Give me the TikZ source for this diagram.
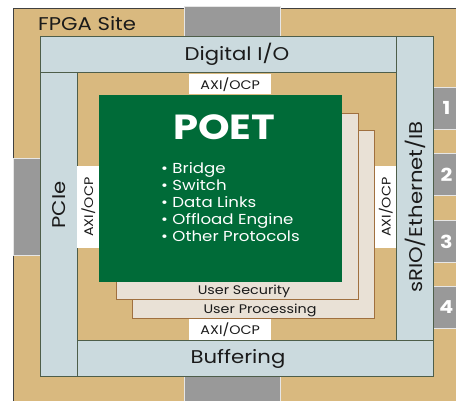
\documentclass[tikz,border=0pt]{standalone}
\usepackage{fontspec}
\setmainfont[FakeStretch=1.15]{Poppins}
\usetikzlibrary{positioning}

\definecolor{sitetan}{HTML}{D9B97F}
\definecolor{barblue}{HTML}{CBDADE}
\definecolor{portgray}{HTML}{999999}
\definecolor{poetgreen}{HTML}{006B38}
\definecolor{layerfill}{HTML}{E9E1D6}
\definecolor{layeredge}{HTML}{A0703F}
\definecolor{edgegreen}{HTML}{4E5E4A}
\definecolor{inkgray}{HTML}{1A1A1A}

\begin{document}
\begin{tikzpicture}[x=1bp,y=-1bp,
        box/.style={rectangle, inner sep=0pt, anchor=north west},
        bar/.style={box, fill=barblue, draw=edgegreen, line width=0.8bp},
        port/.style={box, fill=portgray, draw=white!75!portgray, line width=0.8bp},
        axi/.style={box, fill=white},
        layer/.style={box, fill=layerfill, draw=layeredge, line width=0.8bp},
        lbl/.style={inner sep=0pt, text=inkgray, font=\fontsize{18.5}{20}\selectfont},
        axilbl/.style={inner sep=0pt, text=inkgray, font=\fontsize{12.5}{14}\selectfont},
        userlbl/.style={inner sep=0pt, text=inkgray, font=\fontsize{12.5}{14}\selectfont}
        ]

        \useasboundingbox (0,0) rectangle (456,400);
        \clip (0,0) rectangle (456,400);

        % site and its ports
        \node [box, fill=sitetan, draw=black!75, line width=1bp,
               minimum width=460bp, minimum height=410bp] (site) at (13,8) {};
        \node [lbl, anchor=west] (sitelbl) at (38,24) {FPGA Site};

        \node [port, minimum width=96bp, minimum height=30bp] (ptop) at (184,6) {};
        \node [port, minimum width=96bp, minimum height=30bp] (pbot) at (184,376) {};
        \node [port, minimum width=27bp, minimum height=97bp] (pleft) at (13,158) {};
        \foreach \n/\y in {1/87, 2/153, 3/220, 4/286}
            \node [port, minimum width=30bp, minimum height=42bp,
                   text=white, font=\bfseries\fontsize{18}{20}\selectfont]
                   (p\n) at (433,\y) {\hspace*{-4bp}\n};

        % interface bars
        \node [bar, minimum width=356bp, minimum height=36bp] (dio) at (40,36) {};
        \node [bar, minimum width=37bp, minimum height=304bp] (srio) at (396,36) {};
        \node [bar, minimum width=37bp, minimum height=304bp] (pcie) at (40,72) {};
        \node [bar, minimum width=356bp, minimum height=36bp] (buf) at (77,340) {};

        \node [lbl] (diolbl) at (237,54) {Digital I/O};
        \node [lbl] (buflbl) at (238,359) {Buffering};
        \node [lbl, rotate=90] (pcielbl) at (59,205) {PCIe};
        \node [lbl, rotate=90] (sriolbl) at (415,207) {sRIO/Ethernet/IB};

        % AXI/OCP bridges
        \node [axi, minimum width=82bp, minimum height=20bp] (axit) at (189,74) {};
        \node [axi, minimum width=82bp, minimum height=21bp] (axib) at (189,319) {};
        \node [axi, minimum width=22bp, minimum height=82bp] (axil) at (77,166) {};
        \node [axi, minimum width=21bp, minimum height=82bp] (axir) at (375,166) {};

        \node [axilbl] at (axit) {AXI/OCP};
        \node [axilbl] at (axib) {AXI/OCP};
        \node [axilbl, rotate=90] at (axil) {AXI/OCP};
        \node [axilbl, rotate=90] at (axir) {AXI/OCP};

        % user layers and core
        \node [layer, minimum width=242bp, minimum height=188bp] (uproc) at (132,130) {};
        \node [layer, minimum width=242bp, minimum height=186bp] (usec) at (116,113) {};
        \node [box, fill=poetgreen, minimum width=243bp, minimum height=187bp] (poet) at (99,95) {};

        \node [userlbl] (useclbl) at (244,291) {User Security};
        \node [userlbl] (uproclbl) at (260,310) {User Processing};

        \node [inner sep=0pt, text=white, font=\bfseries\fontsize{35}{37}\selectfont]
              (poetlbl) at (224,127) {POET};
        \foreach \entry [count=\i] in {Bridge, Switch, Data Links, Offload Engine, Other Protocols}
            \node [inner sep=0pt, anchor=base west, text=white,
                   font=\fontsize{14.5}{16}\selectfont]
                  (item\i) at (161,156+17*\i) {\textbullet\ \entry};
\end{tikzpicture}
\end{document}
